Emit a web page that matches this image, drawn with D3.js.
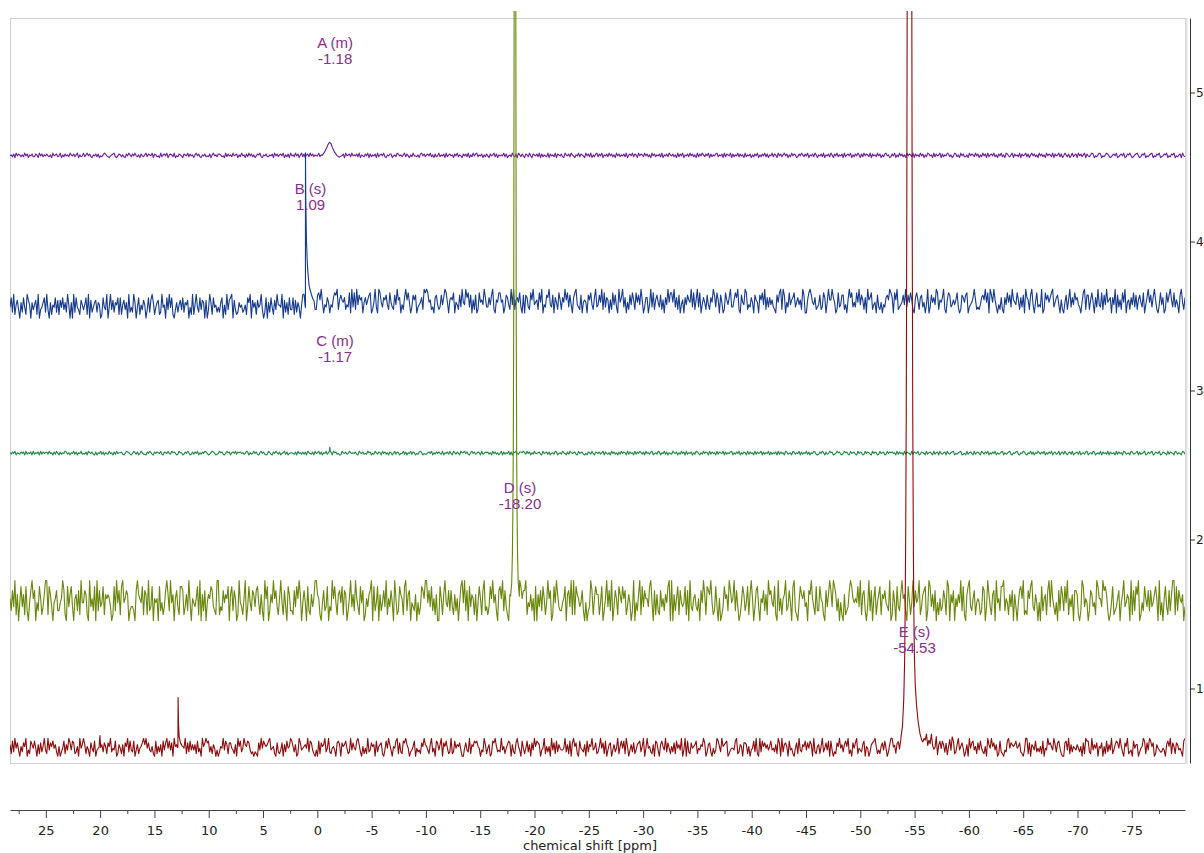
<!DOCTYPE html>
<html>
<head>
<meta charset="utf-8">
<script src="https://cdn.jsdelivr.net/npm/d3@7"></script>
<style>
body{margin:0;background:#fff;overflow:hidden}
svg{display:block}
</style>
</head>
<body>
<div id="chart"></div>
<script>
// axes
var ppmDomain = [28.3, -79.9];
var intDomain = [0.5, 5.5];
var ppmTicks = [25,20,15,10,5,0,-5,-10,-15,-20,-25,-30,-35,-40,-45,-50,-55,-60,-65,-70,-75];
var ppmMinor = [27.5,22.5,17.5,12.5,7.5,2.5,-2.5,-7.5,-12.5,-17.5,-22.5,-27.5,-32.5,-37.5,-42.5,-47.5,-52.5,-57.5,-62.5,-67.5,-72.5,-77.5];
var intTicks = [1,2,3,4,5];
var axisTitle = "chemical shift [ppm]";

// peak labels
var peakLabels = ["A (m)","B (s)","C (m)","D (s)","E (s)"];
var peakShifts = [-1.18, 1.09, -1.17, -18.20, -54.53];

// baseline level of each trace: [from ppm, level]
var baseA = [[28.3,4.578]];
var baseB = [[28.3,3.566],[1.09,3.600]];
var baseC = [[28.3,2.580]];
var baseD = [[28.3,1.590]];
var baseE = [[28.3,0.605],[-53.0,0.625],[-55.65,0.635],[-57.0,0.615],[-58.5,0.605]];

// noise digits, decoded through noiseLevels
var noiseLevels = [-1,-0.7,-0.5,-0.3,-0.1,0.1,0.3,0.5,0.7,1];
var noiseAmp = [0.03, 0.08, 0.025, 0.135, 0.06];

var noiseA =
"453627465353746254633652746354643527456347253645375463572534"+
"735746325463624357643245673246535326475364743526435736547265"+
"342735647256537243654265473645257463254634362574536653427364"+
"537456253745263746352465732546335462746356472536274537462573"+
"625637463544735264573635472364536274563745463725436472635462"+
"735647325466245376453573642537443526746356473526347354627356"+
"452647354264637253746735462536426457362545473624537436275364"+
"265374265463726354372645372654632754637542547365427463725367"+
"364725463746352746354637256473652746537463527463546372546375"+
"463527364725463746352736475364726354673546273654726354736452"+
"735462536472536473625473652746357462537465236475364725463752"+
"546372546375264735462735647253647526374653726453746253674523"+
"647253746352746537264537462537645273645726354763524763527463"+
"352746537462537462735647352647352764357264537264573625746352"+
"746352746537264573624753624735627463572643576243576243576423"+
"564723564723657423567423657243567243657234657243657243562743";
var noiseB =
"482915730628419750635719034682930615482717483629506092843175"+
"358190724672650184390493726581815736092429604815375038279614"+
"671294508394810362573826570419159428376070396184524268051937"+
"890731264523518690746174593028062841739554907261833817264059"+
"926305847117859403264032687915754613280928193756046357801492"+
"098426573184217395603169584027570234619898451206731273698405"+
"658043172943968270517018453962263791054884502763193915648207"+
"076218593451849032769327064185164958273068932170454075831692"+
"374918265051837209469260417385184739502660392815742715063948"+
"849261703506375492815928036417316497285074018536922586910743"+
"981326407540758391626352107489197042835682463519700589743612"+
"371286049559640182377130596824284937516095681340721403267598"+
"608591234739274851068516724039027463981546910587235358201764"+
"780234695121367594809749520316106384729543851627096517930482"+
"329018574689246730510471592638563204891771584062932817394560"+
"639072518490451638271574280369472695103836018479528253079416";
var noiseC =
"536472543646273546273546273645637452637426354763525473625473"+
"436275463262547362543745263745563247653247536247533264753264"+
"654732654743756423755236475236364725364764235764234756324756"+
"256473656453476253474632574632375326475362457362455436274536"+
"362754362745736254736342756342275463475454632754634375624375"+
"365274635265247365244736254736524367524335647253646437254637"+
"427536427557463257463465273465635274635247263547262657436657"+
"537462537445632745636245376245375426375456327456324265374265"+
"463572643527463526374652736452736475362745367245376254736254"+
"375462537462735462537642537465273645273654726354672536472536"+
"527364527364572635472635462736452763452763547263547362547632"+
"364752634756234756324756327456327465237465327465237456237465"+
"645273645273654273654723654273564273562743562743567243567234"+
"273564273564275364725364725346725346732546732547632547362547"+
"536472536472563472563742563724563724536724537624537264537264"+
"452736452763452763457263457236457236547236542736542763542763";
var noiseD =
"527391604836182047957042851369918630457224597108368305627194"+
"476109352809273481656530182947189457602332079654817619238054"+
"508241379629460573188713629405435819062704658732199132746580"+
"682750194315903842763784162095802649573159417308622173859604"+
"740821635996510472380329584167481760259362953184701536790824"+
"806247391537409512865189267043260413875994738251600851694372"+
"731625048949270836516048517923138594620785927310643260419857"+
"791436250806372851495701849632245806739191865347204023971586"+
"614802593729037518648571364029042691837553894071621735264890"+
"906258174348170932563250749618769412830501385629745927301486"+
"248169503783054726196743810925156923740892104865734076953182"+
"285410736973986250410612379854548391672039270581468165743290"+
"174083269562085149374591367802983627041523751980647053649281"+
"068932571454128703963167094528892541637063047859121758932640"+
"408256179395314072862849153607761029835402763419855397862014"+
"812357046934650917286901428537273468509140583172699182754603";
var noiseE =
"618294730527590318648406172593193758462050248163973871250946"+
"961530742803489627517592438016416075928328036145796947325108"+
"152608379483709562415049172836361824095797825164030254938617"+
"743160958249658731202107394865689345107213706284598526019734"+
"564928731030817569249214530786075684129374389620514192375608"+
"256710384963054891721879640235804231759653169240873690758412"+
"912846573004732916587854032961460187952329351468706217953084"+
"148260739587603491525093718264334926180795710843260826593471"+
"259471803670362491584819503627136782590494521608730685392741"+
"527184639039082174568143659702672041398529567801344389126507"+
"761503482910928574635834261970926750834104719326583748609215"+
"615924738083021759462685913074791432680540267895131573840269"+
"934056271858670914320218457693649312805737516048298126935740"+
"260947835173842150964957360182103289476568457210399170653824"+
"251804396753962784100783916254364250719882193647054705182639"+
"136874952075912308466024598173985701643224306859175176342089";

// peak profiles: [ppm, height above baseline]
var peaksA = [
  [[-0.45,0],[-0.65,0.02],[-0.85,0.05],[-1.0,0.075],[-1.12,0.088],[-1.25,0.08],[-1.4,0.05],[-1.6,0.02],[-1.8,0],[-2.0,-0.012],[-2.3,0]]
];
var peaksB = [
  [[1.12,0],[1.095,-0.01],[1.09,1.03],[1.06,0.7],[1.0,0.44],[0.93,0.3],[0.86,0.22],[0.76,0.14],[0.67,0.11],[0.55,0.08],[0.42,0.05],[0.3,0.034]]
];
var peaksC = [
  [[-1.0,0],[-1.1,0.01],[-1.15,0.04],[-1.2,0.012],[-1.3,0]]
];
var peaksD = [
  [[-17.8,0.03],[-17.9,0.12],[-17.96,0.3],[-18.0,0.55],[-18.04,0.95],[-18.08,1.8],[-18.12,3.8],[-18.15,6],[-18.2,7],
   [-18.25,6],[-18.28,3.8],[-18.32,1.8],[-18.36,0.95],[-18.4,0.55],[-18.44,0.3],[-18.5,0.12],[-18.6,0.03]]
];
var peaksE = [
  [[20.1,0],[20.02,0.08],[19.95,0]],
  [[12.9,0],[12.84,0],[12.82,0.335],[12.78,0.15],[12.72,0.07],[12.6,0.03],[12.45,0.01],[12.3,0]],
  [[-53.75,0.05],[-53.88,0.12],[-54.0,0.3],[-54.08,0.55],[-54.13,0.9],[-54.18,1.4],[-54.23,2.2],[-54.28,3.5],[-54.33,5.5],
   [-54.43,7.5],[-54.53,8.5],[-54.63,7.5],[-54.73,5.5],[-54.78,3.5],[-54.83,2.2],[-54.88,1.4],[-54.93,0.9],[-54.98,0.6],
   [-55.06,0.4],[-55.18,0.26],[-55.33,0.15],[-55.5,0.07],[-55.65,0.03]]
];

var traces = [
  {base: baseA, noise: noiseA, amp: noiseAmp[0], peaks: peaksA},
  {base: baseB, noise: noiseB, amp: noiseAmp[1], peaks: peaksB},
  {base: baseC, noise: noiseC, amp: noiseAmp[2], peaks: peaksC},
  {base: baseD, noise: noiseD, amp: noiseAmp[3], peaks: peaksD},
  {base: baseE, noise: noiseE, amp: noiseAmp[4], peaks: peaksE}
];
var traceColors = ["#6a1d9b","#163b8c","#22884a","#67860a","#8a0c0c"];
var labelColor = "#8a2d8c";

var width = 1204, height = 853;
var svg = d3.select("#chart").append("svg").attr("width", width).attr("height", height);

var x = d3.scaleLinear().domain(ppmDomain).range([10, 1185]);
var y = d3.scaleLinear().domain(intDomain).range([763, 18]);

function levelAt(base, p){
  var l = base[0][1];
  base.forEach(function(b){ if(p <= b[0]) l = b[1]; });
  return l;
}

function buildTrace(t){
  var n = t.noise.length, span = ppmDomain[0] - ppmDomain[1];
  var pts = [];
  for(var i = 0; i < n; i++){
    var p = ppmDomain[0] - span * i / (n - 1);
    var inside = t.peaks.some(function(s){ return p <= s[0][0] && p >= s[s.length-1][0]; });
    if(inside) continue;
    pts.push([p, levelAt(t.base, p) + noiseLevels[+t.noise[i]] * t.amp]);
  }
  t.peaks.forEach(function(s){
    var l = levelAt(t.base, s[0][0]);
    s.forEach(function(q){ pts.push([q[0], l + q[1]]); });
  });
  pts.sort(function(a, b){ return b[0] - a[0]; });
  return pts;
}

// frame
svg.append("rect").attr("x", 10.5).attr("y", 18.5).attr("width", 1175).attr("height", 745)
  .attr("fill", "none").attr("stroke", "#cfcfcf");
svg.append("line").attr("x1", 1186.5).attr("x2", 1186.5).attr("y1", 18).attr("y2", 764)
  .attr("stroke", "#e2e2e2").attr("stroke-width", 2);

svg.append("clipPath").attr("id", "plotclip").append("rect")
  .attr("x", 10).attr("y", 11).attr("width", 1175).attr("height", 753);

var line = d3.line().x(function(d){ return x(d[0]); }).y(function(d){ return y(d[1]); });

var plot = svg.append("g").attr("clip-path", "url(#plotclip)");
traces.forEach(function(t, i){
  plot.append("path")
    .attr("d", line(buildTrace(t)))
    .attr("fill", "none")
    .attr("stroke", traceColors[i])
    .attr("stroke-width", 1.1)
    .attr("stroke-linejoin", "round");
});

// peak labels
traces.forEach(function(t, i){
  var lx = x(peakShifts[i]) + 5;
  var ly = y(levelAt(t.base, peakShifts[i]) + 0.72);
  var txt = svg.append("text")
    .attr("x", lx).attr("y", ly)
    .attr("text-anchor", "middle")
    .attr("fill", labelColor)
    .style("font-family", "'Liberation Sans', Arial, sans-serif")
    .style("font-size", "15px");
  txt.append("tspan").attr("x", lx).attr("dy", 0).text(peakLabels[i]);
  txt.append("tspan").attr("x", lx).attr("dy", 16).text(peakShifts[i].toFixed(2));
});

// bottom ppm axis
var axisFont = "'DejaVu Sans', Verdana, sans-serif";
var gx = svg.append("g").attr("transform", "translate(0,810)")
  .call(d3.axisBottom(x).tickValues(ppmTicks).tickSize(8).tickSizeOuter(0).tickPadding(8)
    .tickFormat(function(d){ return String(d); }));
svg.append("g").attr("transform", "translate(0,810)")
  .call(d3.axisBottom(x).tickValues(ppmMinor).tickSize(4).tickSizeOuter(0).tickFormat(""))
  .select(".domain").remove();
gx.selectAll("text").style("font-family", axisFont).style("font-size", "13px").attr("fill", "#222");
svg.selectAll(".tick line, .domain").attr("stroke", "#444");

svg.append("text").attr("x", 590).attr("y", 850).attr("text-anchor", "middle")
  .style("font-family", axisFont).style("font-size", "13px").attr("fill", "#222")
  .text(axisTitle);

// right intensity axis
var gy = svg.append("g").attr("transform", "translate(1190,0)")
  .call(d3.axisRight(y).tickValues(intTicks).tickSize(5).tickSizeOuter(0).tickPadding(1)
    .tickFormat(function(d){ return String(d); }));
gy.selectAll("text").style("font-family", axisFont).style("font-size", "12px").attr("fill", "#222");
gy.selectAll(".tick line, .domain").attr("stroke", "#333");
</script>
</body>
</html>
